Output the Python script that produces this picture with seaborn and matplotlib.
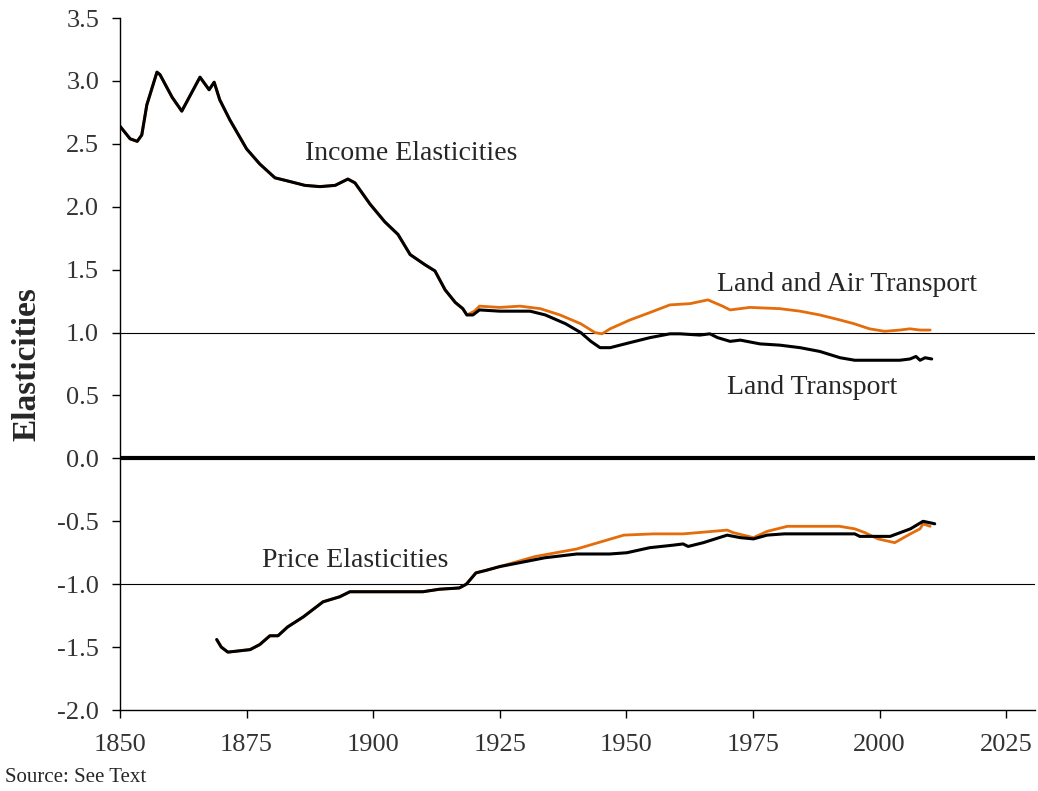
import numpy as np
import pandas as pd
import matplotlib
matplotlib.use("Agg")
import matplotlib.pyplot as plt
import seaborn as sns

# income elasticities, shared part (both series identical before ~1918)
inc_years_shared = [1850, 1852, 1853.4, 1854.3, 1855.3, 1857.3, 1857.9, 1860.3, 1862.2, 1865.8,
                    1867.6, 1868.6, 1869.7, 1871.7, 1875, 1877.6, 1880.6, 1883.6, 1886.5, 1889.5,
                    1892.5, 1895, 1896.4, 1899.4, 1902.3, 1904.9, 1907.3, 1910.2, 1912.2, 1914.2,
                    1916.2, 1917.7, 1918.5]
inc_shared = [2.64, 2.54, 2.52, 2.57, 2.81, 3.07, 3.05, 2.87, 2.76, 3.03,
              2.93, 2.99, 2.85, 2.69, 2.46, 2.34, 2.23, 2.20, 2.17, 2.16,
              2.17, 2.22, 2.19, 2.02, 1.88, 1.78, 1.62, 1.54, 1.49, 1.34,
              1.24, 1.19, 1.14]

# income, land transport (after 1918)
inc_land_years = [1919.7, 1921, 1925, 1931, 1934, 1938, 1941, 1943, 1944.8, 1946.8,
                  1950.7, 1954.7, 1958.6, 1960.6, 1964.5, 1966.5, 1968, 1970.5, 1972.5, 1976.4,
                  1980.3, 1984.3, 1988.2, 1992.2, 1995.1, 1998.1, 2004, 2006, 2007.2, 2008,
                  2009, 2010.3]
inc_land = [1.14, 1.18, 1.17, 1.17, 1.14, 1.07, 1.00, 0.93, 0.88, 0.88,
            0.92, 0.96, 0.99, 0.99, 0.98, 0.99, 0.96, 0.93, 0.94, 0.91,
            0.90, 0.88, 0.85, 0.80, 0.78, 0.78, 0.78, 0.79, 0.81, 0.78,
            0.80, 0.79]

# income, land and air transport (after 1918)
inc_air_years = [1920, 1921, 1925, 1929, 1933, 1936.9, 1941, 1943.8, 1945.2, 1946.8,
                 1950.7, 1954.7, 1958.6, 1962.6, 1966.1, 1969, 1970.5, 1974.4, 1980.3, 1984.3,
                 1988.2, 1992.2, 1995, 1998, 2001, 2004, 2006, 2008, 2010]
inc_air = [1.17, 1.21, 1.20, 1.21, 1.19, 1.14, 1.07, 1.00, 0.99, 1.03,
           1.10, 1.16, 1.22, 1.23, 1.26, 1.21, 1.18, 1.20, 1.19, 1.17,
           1.14, 1.10, 1.07, 1.03, 1.01, 1.02, 1.03, 1.02, 1.02]

# price elasticities, shared part
pr_years_shared = [1869.1, 1870, 1871.3, 1875.7, 1877.6, 1879.6, 1881.2, 1883.1, 1886.2, 1890.1,
                   1893.4, 1895.4, 1909.8, 1913.1, 1917, 1918.4, 1920.3, 1922.3, 1925]
pr_shared = [-1.44, -1.50, -1.54, -1.52, -1.48, -1.41, -1.41, -1.34, -1.26, -1.14,
             -1.10, -1.06, -1.06, -1.04, -1.03, -1.00, -0.91, -0.89, -0.86]

pr_land_years = [1933.9, 1940.2, 1946.7, 1950.1, 1954.6, 1959.2, 1961.2, 1962.2, 1965.2, 1969.9,
                 1972.5, 1975.1, 1977.8, 1981.2, 1995.1, 1996.1, 2002.1, 2004.1, 2006.1, 2008.6,
                 2010.9]
pr_land = [-0.79, -0.76, -0.76, -0.75, -0.71, -0.69, -0.68, -0.70, -0.67, -0.61,
           -0.63, -0.64, -0.61, -0.60, -0.60, -0.62, -0.62, -0.59, -0.56, -0.50,
           -0.52]

pr_air_years = [1932, 1940.2, 1949.5, 1955.4, 1961.2, 1964.2, 1969.9, 1971.1, 1975.1, 1977.8,
                1981.8, 1992.1, 1995.1, 1997.1, 1999.7, 2003, 2006.1, 2008, 2008.6, 2010]
pr_air = [-0.78, -0.72, -0.61, -0.60, -0.60, -0.59, -0.57, -0.59, -0.63, -0.58,
          -0.54, -0.54, -0.56, -0.59, -0.64, -0.67, -0.60, -0.56, -0.52, -0.54]

inc_land_df = pd.DataFrame({'year': inc_years_shared + inc_land_years, 'e': inc_shared + inc_land})
inc_air_df = pd.DataFrame({'year': inc_years_shared + inc_air_years, 'e': inc_shared + inc_air})
pr_land_df = pd.DataFrame({'year': pr_years_shared + pr_land_years, 'e': pr_shared + pr_land})
pr_air_df = pd.DataFrame({'year': pr_years_shared + pr_air_years, 'e': pr_shared + pr_air})

sns.set_style('white')
plt.rcParams['font.family'] = ['Liberation Serif', 'DejaVu Serif']

fig = plt.figure(figsize=(10.38, 7.91), dpi=100)
ax = fig.add_axes([0.1156, 0.1024, 0.8815, 0.8748])

orange = '#e46c0a'
sns.lineplot(data=inc_air_df, x='year', y='e', color=orange, linewidth=2.0, ax=ax, sort=False)
sns.lineplot(data=pr_air_df, x='year', y='e', color=orange, linewidth=2.0, ax=ax, sort=False)
sns.lineplot(data=inc_land_df, x='year', y='e', color='black', linewidth=2.2, ax=ax, sort=False)
sns.lineplot(data=pr_land_df, x='year', y='e', color='black', linewidth=2.2, ax=ax, sort=False)

ax.axhline(1.0, color='black', linewidth=0.8, zorder=1)
ax.axhline(-1.0, color='black', linewidth=0.8, zorder=1)
ax.axhline(0.0, color='black', linewidth=3.0, zorder=1)

ax.set_xlim(1850, 2030.7)
ax.set_ylim(-2.0, 3.5)
ax.set_xticks(np.arange(1850, 2030, 25))
ax.set_yticks(np.arange(-2.0, 3.51, 0.5))
ax.set_yticklabels([f'{v:.1f}' for v in np.arange(-2.0, 3.51, 0.5)])

sns.despine(ax=ax)
ax.spines['left'].set_color('black')
ax.spines['bottom'].set_color('black')
ax.spines['left'].set_linewidth(1.0)
ax.spines['bottom'].set_linewidth(1.0)
ax.tick_params(axis='both', direction='out', length=6, width=1, color='black',
               labelsize=19, labelcolor='#333333', left=True, bottom=True)
ax.tick_params(axis='y', pad=9)
ax.tick_params(axis='x', pad=11)

ax.set_xlabel('')
ax.set_ylabel('Elasticities', fontsize=24, fontweight='bold')
ax.yaxis.set_label_coords(-0.085, 0.5)

ax.text(1907.5, 2.42, 'Income Elasticities', fontsize=20, ha='center', va='center')
ax.text(1993.6, 1.38, 'Land and Air Transport', fontsize=20, ha='center', va='center')
ax.text(1986.7, 0.56, 'Land Transport', fontsize=20, ha='center', va='center')
ax.text(1896.4, -0.81, 'Price Elasticities', fontsize=20, ha='center', va='center')

fig.text(5 / 1038, 1 - 777 / 791, 'Source: See Text', fontsize=15, ha='left', va='center')

fig.savefig('out.png', dpi=100)
